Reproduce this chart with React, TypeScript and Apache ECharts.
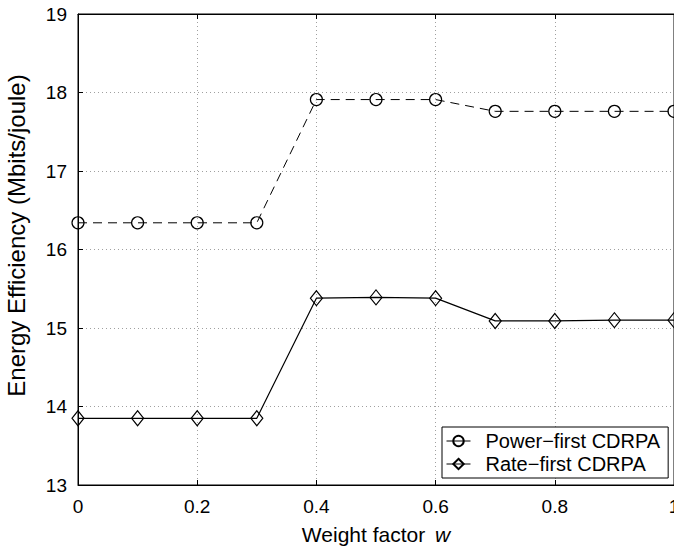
import React, { useEffect, useRef } from "react";
import * as echarts from "echarts";

const weights = [0, 0.1, 0.2, 0.3, 0.4, 0.5, 0.6, 0.7, 0.8, 0.9, 1.0];
const powerFirst = [16.34, 16.34, 16.34, 16.34, 17.91, 17.91, 17.91, 17.76, 17.76, 17.76, 17.76];
const rateFirst = [13.85, 13.85, 13.85, 13.85, 15.38, 15.39, 15.38, 15.09, 15.09, 15.10, 15.10];
const xTicks = [0, 0.2, 0.4, 0.6, 0.8, 1];
const yTicks = [13, 14, 15, 16, 17, 18, 19];
const seriesNames = ["Power\u2212first CDRPA", "Rate\u2212first CDRPA"];

const FONT = "Liberation Sans, Arial, Helvetica, sans-serif";

export default function App() {
  const ref = useRef<HTMLDivElement>(null);
  useEffect(() => {
    if (!ref.current) return;
    const chart = echarts.init(ref.current, undefined, { renderer: "svg" });
    const grid = { color: "#a0a0a0", type: [1, 3] as number[], width: 1 };
    chart.setOption({
      animation: false,
      backgroundColor: "#fff",
      textStyle: { fontFamily: FONT, color: "#000" },
      grid: {
        left: 78,
        right: 0,
        top: 14,
        bottom: 69,
        show: true,
        borderColor: "#000",
        borderWidth: 1,
        containLabel: false,
        outerBoundsMode: "none",
      },
      legend: {
        orient: "vertical",
        left: 442,
        top: 427,
        backgroundColor: "#fff",
        borderColor: "#000",
        borderWidth: 1,
        borderRadius: 0,
        padding: [3, 8, 3, 4],
        itemGap: 1,
        itemWidth: 24,
        itemHeight: 13,
        lineStyle: { type: "solid", width: 1, color: "#000" },
        textStyle: { fontSize: 20, color: "#000", fontFamily: FONT, lineHeight: 22, padding: [0, 0, 0, 10] },
        data: seriesNames,
      },
      xAxis: [
        {
          type: "value",
          min: 0,
          max: 1,
          interval: 0.2,
          name: "{n|Weight factor }{i|w}",
          nameLocation: "middle",
          nameGap: 39,
          nameTextStyle: {
            rich: {
              n: { fontSize: 21, fontFamily: FONT, color: "#000" },
              i: { fontSize: 21, fontFamily: FONT, color: "#000", fontStyle: "italic", padding: [0, 0, 0, 4] },
            },
          },
          axisLine: { lineStyle: { color: "#000", width: 1 } },
          axisTick: { inside: true, length: 5, lineStyle: { color: "#000" } },
          axisLabel: {
            fontSize: 19,
            color: "#000",
            margin: 12,
            fontFamily: FONT,
            hideOverlap: false,
            formatter: (v: number) => {
              const t = xTicks.find((x) => Math.abs(x - v) < 1e-9);
              return t === undefined ? "" : String(t);
            },
          },
          splitLine: { show: true, lineStyle: grid },
        },
        {
          type: "value",
          position: "top",
          min: 0,
          max: 1,
          interval: 0.2,
          axisLine: { show: true, lineStyle: { color: "#000" } },
          axisTick: { inside: true, length: 5, lineStyle: { color: "#000" } },
          axisLabel: { show: false },
          splitLine: { show: false },
        },
      ],
      yAxis: [
        {
          type: "value",
          min: 13,
          max: 19,
          interval: 1,
          name: "Energy Efficiency (Mbits/joule)",
          nameLocation: "middle",
          nameGap: 50,
          nameTextStyle: { fontSize: 24, fontFamily: FONT, color: "#000", padding: [0, 0, 0, 28] },
          axisLine: { show: true, lineStyle: { color: "#000", width: 1 } },
          axisTick: { show: true, inside: true, length: 5, lineStyle: { color: "#000" } },
          axisLabel: {
            fontSize: 19,
            color: "#000",
            margin: 11,
            fontFamily: FONT,
            formatter: (v: number) => {
              const t = yTicks.find((y) => Math.abs(y - v) < 1e-9);
              return t === undefined ? "" : String(t);
            },
          },
          splitLine: { show: true, lineStyle: grid },
        },
      ],
      series: [
        {
          name: seriesNames[0],
          type: "line",
          data: weights.map((w, i) => [w, powerFirst[i]]),
          symbol: "circle",
          symbolSize: 12,
          showAllSymbol: true,
          lineStyle: { color: "#000", width: 1, type: [9, 6] },
          itemStyle: { color: "rgba(0,0,0,0)", borderColor: "#000", borderWidth: 1.2 },
        },
        {
          name: seriesNames[1],
          type: "line",
          data: weights.map((w, i) => [w, rateFirst[i]]),
          symbol: "diamond",
          symbolSize: [12, 15],
          showAllSymbol: true,
          lineStyle: { color: "#000", width: 1.2, type: "solid" },
          itemStyle: { color: "rgba(0,0,0,0)", borderColor: "#000", borderWidth: 1.2 },
        },
      ],
    });
    return () => chart.dispose();
  }, []);
  return <div ref={ref} style={{ position: "fixed", left: 0, top: 0, width: 674, height: 554 }} />;
}
